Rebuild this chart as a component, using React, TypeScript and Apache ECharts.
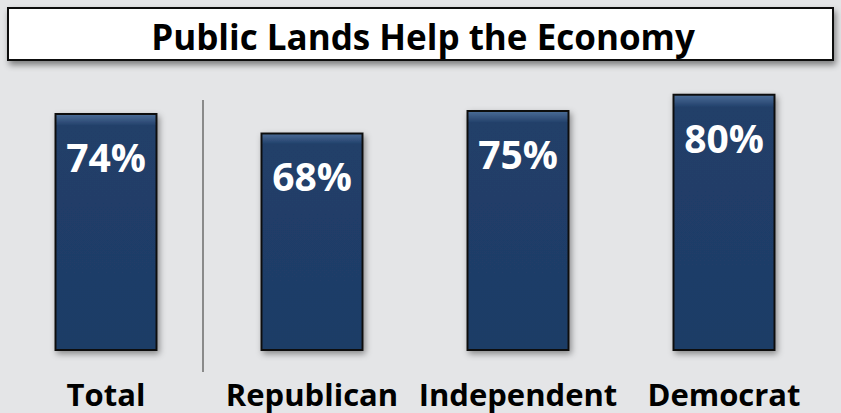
import React, { useEffect, useRef } from "react";
import * as echarts from "echarts";

const categories = ["Total", "Republican", "Independent", "Democrat"];
const values = [74, 68, 75, 80];
const titleText = "Public Lands Help the Economy";

export default function App() {
  const ref = useRef<HTMLDivElement>(null);
  useEffect(() => {
    if (!ref.current) return;
    const chart = echarts.init(ref.current, null, { renderer: "svg" });
    chart.setOption({
      animation: false,
      backgroundColor: "#e4e5e7",
      grid: { left: 3, right: 14, top: 29.5, bottom: 62 },
      xAxis: {
        type: "category",
        data: categories,
        axisLine: { show: false },
        axisTick: { show: false },
        axisLabel: {
          color: "#000",
          fontFamily: "Open Sans",
          fontWeight: "bold",
          fontSize: 31,
          margin: 27,
          interval: 0,
        },
      },
      yAxis: {
        type: "value",
        min: 0,
        max: 100,
        show: false,
        splitLine: { show: false },
      },
      graphic: [
        {
          type: "rect",
          shape: { x: 8, y: 8, width: 825, height: 52 },
          style: {
            fill: "#ffffff",
            stroke: "#111",
            lineWidth: 2,
            shadowBlur: 6,
            shadowOffsetX: 2,
            shadowOffsetY: 4,
            shadowColor: "rgba(0,0,0,0.45)",
          },
          z: 10,
        },
        {
          type: "text",
          x: 423,
          y: 36,
          style: {
            text: titleText,
            fill: "#000",
            font: "bold 35px 'Open Sans'",
            align: "center",
            verticalAlign: "middle",
          },
          z: 11,
        },
        {
          type: "line",
          shape: { x1: 203, y1: 100, x2: 203, y2: 372 },
          style: { stroke: "#8a8a8a", lineWidth: 2 },
          z: 5,
        },
      ],
      series: [
        {
          type: "bar",
          data: values,
          barWidth: 103,
          itemStyle: {
            color: {
              type: "linear",
              x: 0,
              y: 0,
              x2: 0,
              y2: 1,
              colorStops: [
                { offset: 0, color: "#4c6d98" },
                { offset: 0.05, color: "#213f69" },
                { offset: 1, color: "#1e3c66" },
              ],
            },
            borderColor: "#111",
            borderWidth: 2,
            shadowBlur: 6,
            shadowOffsetX: 2,
            shadowOffsetY: 3,
            shadowColor: "rgba(0,0,0,0.4)",
          },
          label: {
            show: true,
            position: "insideTop",
            distance: 24,
            formatter: "{c}%",
            color: "#fff",
            fontFamily: "Open Sans",
            fontWeight: "bold",
            fontSize: 39,
          },
        },
      ],
    });
    return () => chart.dispose();
  }, []);
  return <div ref={ref} style={{ width: 841, height: 413, position: "absolute", left: 0, top: 0 }} />;
}
